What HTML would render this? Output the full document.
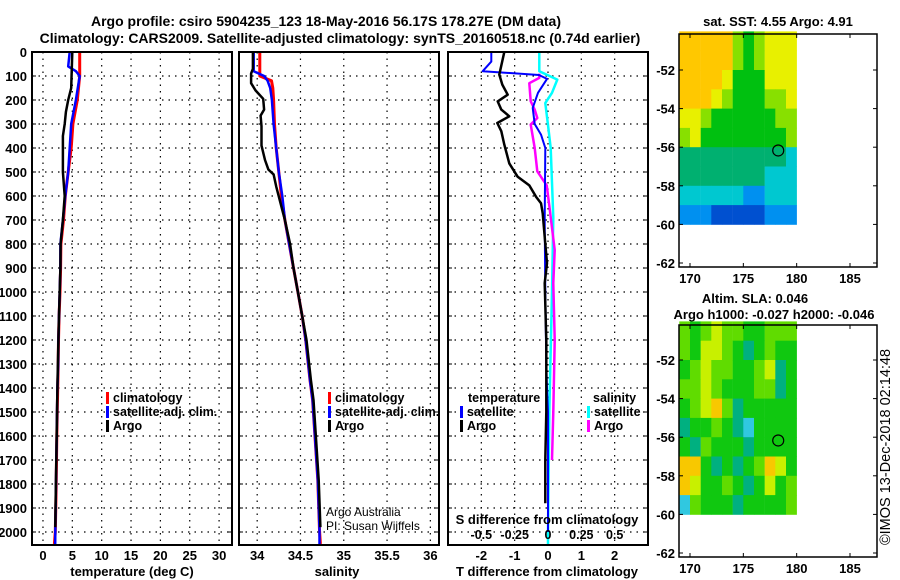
<!DOCTYPE html>
<html><head><meta charset="utf-8">
<style>
body{margin:0;background:#fff;}
svg{display:block;font-family:"Liberation Sans",Arial,sans-serif;font-weight:bold;}
</style></head>
<body>
<svg id="fig" width="900" height="580" viewBox="0 0 900 580" xmlns="http://www.w3.org/2000/svg">
<rect width="900" height="580" fill="#fff"/>
<text x="326" y="26" text-anchor="middle" font-size="14">Argo profile: csiro 5904235_123 18-May-2016 56.17S 178.27E (DM data)</text>
<text x="340" y="43" text-anchor="middle" font-size="14">Climatology: CARS2009. Satellite-adjusted climatology: synTS_20160518.nc (0.74d earlier)</text>
<text transform="translate(890,447) rotate(-90)" text-anchor="middle" font-size="14.5" font-weight="normal">©IMOS 13-Dec-2018 02:14:48</text>
</svg>
<script>
// ---------------- data ----------------
const depthTicks=[0,100,200,300,400,500,600,700,800,900,1000,1100,1200,1300,1400,1500,1600,1700,1800,1900,2000];
const tTicks=[0,5,10,15,20,25,30];
const sTicks=[34,34.5,35,35.5,36];
const dTTicks=[-2,-1,0,1,2];
const dSTicks=[-0.5,-0.25,0,0.25,0.5];
const dSTickLabels=["-0.5","-0.25","0","0.25","0.5"];

const tClimDepth=[0,100,200,300,400,500,600,700,800,900,1000,1100,1200,1300,1400,1600,1800,2000,2050];
const tClim=[6.25,6.25,5.85,5.1,4.8,4.3,3.8,3.5,3.05,3.0,2.9,2.75,2.65,2.6,2.5,2.35,2.25,2.1,1.95];
const tSatDepth=[0,60,80,100,200,300,400,500,600,700,800,900,1000,1100,1200,1300,1400,1600,1800,2000,2050];
const tSat=[4.55,4.3,5.6,6.25,5.6,4.8,4.55,4.3,3.8,3.4,2.96,2.96,2.85,2.73,2.62,2.6,2.45,2.33,2.22,2.1,2.08];
const tArgoDepth=[0,150,200,250,300,350,400,500,600,700,800,900,1000,1100,1200,1400,1600,1800,1980];
const tArgo=[5.0,4.8,4.3,3.9,3.7,3.4,3.4,3.4,3.7,3.4,3.0,2.96,2.85,2.73,2.62,2.45,2.33,2.2,2.1];

const sClimDepth=[0,100,120,150,200,300,400,500,600,700,800,900,1000,1100,1200,1367,1450,1783,1992,2050];
const sClim=[34.03,34.03,34.165,34.18,34.19,34.2,34.22,34.25,34.28,34.32,34.37,34.42,34.47,34.52,34.56,34.61,34.64,34.7,34.72,34.73];
const sSatDepth=[0,80,100,120,150,200,300,400,500,600,700,800,900,1000,1100,1200,1367,1450,1783,1992,2050];
const sSat=[33.96,33.96,34.08,34.12,34.15,34.17,34.19,34.22,34.25,34.29,34.32,34.37,34.42,34.47,34.52,34.56,34.61,34.64,34.7,34.72,34.72];
const sArgoDepth=[0,70,90,130,160,195,240,265,310,390,450,490,510,560,700,800,900,1000,1100,1200,1367,1450,1783,1980];
const sArgo=[33.95,33.95,33.93,33.93,33.98,34.07,34.08,34.04,34.05,34.05,34.09,34.13,34.19,34.22,34.32,34.38,34.42,34.47,34.52,34.57,34.62,34.65,34.71,34.73];

const dTSatDepth=[0,40,80,96,112,170,233,300,344,400,700,1000,1300,1400,1500,2000];
const dTSat=[-1.7,-1.7,-1.96,-0.27,-0.03,-0.3,-0.46,-0.4,-0.21,-0.08,-0.1,-0.08,-0.05,-0.03,0,0];
const dTArgoDepth=[0,94,136,178,206,240,268,296,330,386,464,520,556,603,630,672,770,880,963,1200,1500,1700,1880];
const dTArgo=[-1.31,-1.46,-1.37,-1.21,-1.51,-1.4,-1.16,-1.52,-1.4,-1.31,-1.16,-0.91,-0.56,-0.36,-0.21,-0.16,-0.1,-0.03,-0.1,-0.05,-0.05,-0.08,-0.08];
const dSSatDepth=[0,80,115,170,213,304,400,690,1000,1500,2000,2050];
const dSSat=[-0.065,-0.065,0.07,0.03,-0.02,0.0,0.02,0.04,0.03,0.01,0.0,0.0];
const dSArgoDepth=[90,108,130,205,240,275,302,400,497,556,640,825,963,1200,1500,1700];
const dSArgo=[-0.065,-0.065,-0.14,-0.13,-0.1,-0.08,-0.13,-0.1,-0.08,-0.01,0.01,0.05,0.04,0.05,0.04,0.03];

const lonTicks=[170,175,180,185];
const latTicks=[-52,-54,-56,-58,-60,-62];
const gridLons=[169,170,171,172,173,174,175,176,177,178,179];
const gridLats=[-50,-51,-52,-53,-54,-55,-56,-57,-58,-59];
const sstGrid=[
[7,7,7,7,7,5,4,5,6,6,6],
[7,7,7,7,7,5,4,5,6,6,6],
[7,7,7,7,6,4,4,4,6,6,6],
[7,7,7,6,5,4,4,4,5,5,6],
[6,6,5,4,4,4,4,4,4,5,5],
[5,6,4,4,4,4,4,4,4,4,5],
[3,3,3,3,3,3,3,3,3,3,2],
[3,3,3,3,3,3,3,3,2,2,2],
[2,2,2,2,2,2,1,1,2,2,2],
[1,1,1,0,0,0,0,0,1,1,1]];
const slaGrid=[
[3,2,3,4,3,3,2,2,3,3,3],
[3,2,4,4,3,2,1,2,3,2,2],
[2,3,4,3,3,2,2,3,4,1,2],
[3,3,4,3,2,2,2,3,3,1,2],
[2,3,4,5,3,1,2,2,2,2,2],
[1,2,2,3,2,1,0,2,2,2,2],
[2,1,3,2,2,2,1,2,2,2,2],
[5,5,2,1,2,1,2,3,5,4,2],
[5,4,2,2,3,2,1,2,4,2,3],
[0,3,2,2,2,1,2,2,2,2,3]];
const floatLon=178.27, floatLat=-56.17;

// ---------------- drawing ----------------
const NS="http://www.w3.org/2000/svg";
const svg=document.getElementById('fig');
function el(tag,attrs,parent){const e=document.createElementNS(NS,tag);for(const k in attrs)e.setAttribute(k,attrs[k]);(parent||svg).appendChild(e);return e;}
const yTop=52, yBot=545;
const yD=d=>yTop+d*0.24;

function panel(name,x0,x1,vmin,vmax){
  const g=el('g',{});
  
  
  const sx=v=>x0+(v-vmin)/(vmax-vmin)*(x1-x0);
  return {g,sx};
}
function frame(g,x0,x1,name){
  const r=el('rect',{x:x0,y:yTop,width:x1-x0,height:yBot-yTop,fill:'none',stroke:'#000','stroke-width':2},g);
  
  
}
function hgrid(g,x0,x1){
  depthTicks.forEach(d=>{if(d===0)return;
    const l=el('line',{x1:x0,x2:x1,y1:yD(d),y2:yD(d),stroke:'#000','stroke-width':1.2,'stroke-dasharray':'1.5 5'},g);
    
    
    el('line',{x1:x0,x2:x0+4,y1:yD(d),y2:yD(d),stroke:'#000','stroke-width':1},g);
    el('line',{x1:x1-4,x2:x1,y1:yD(d),y2:yD(d),stroke:'#000','stroke-width':1},g);
  });
}
function vgrid(g,ticks,sx,x0,x1){
  ticks.forEach(v=>{const x=sx(v);
    const l=el('line',{x1:x,x2:x,y1:yTop,y2:yBot,stroke:'#000','stroke-width':1.2,'stroke-dasharray':'1.5 5'},g);
    
    
  });
}
function xlabels(g,ticks,sx,labels,y,name){
  ticks.forEach((v,i)=>{
    const t=el('text',{x:sx(v),y:y,'text-anchor':'middle','font-size':13},g);
    t.textContent=labels?labels[i]:String(v);
    
    
  });
}
function series(g,depths,vals,sx,color,w,name){
  const pts=depths.map((d,i)=>sx(vals[i]).toFixed(1)+','+yD(d).toFixed(1)).join(' ');
  const p=el('polyline',{points:pts,fill:'none',stroke:color,'stroke-width':w,'stroke-linejoin':'round'},g);
  
  
}
function legendEntry(g,x,y,color,label,name){
  const r=el('rect',{x:x,y:y-10,width:3,height:12,fill:color},g);
  const t=el('text',{x:x+7,y:y,'font-size':12.5},g);
  t.textContent=label;
  
  
}
function title(g,x,y,txt,name){
  const t=el('text',{x:x,y:y,'text-anchor':'middle','font-size':13},g);
  t.textContent=txt;
  
  
}

// Panel 1: temperature
(function(){
  const x0=32,x1=232;
  const P=panel('temperature-panel',x0,x1,-1.87,32.2);
  const g=P.g,sx=P.sx;
  hgrid(g,x0,x1); vgrid(g,tTicks,sx,x0,x1);
  depthTicks.forEach(d=>{
    const t=el('text',{x:27,y:yD(d)+5,'text-anchor':'end','font-size':13},g);
    t.textContent=String(d);
    
    
  });
  xlabels(g,tTicks,sx,null,560,'temperature-tick-label');
  title(g,132,576,'temperature (deg C)','temperature-axis-title');
  series(g,tClimDepth,tClim,sx,'#ff0000',3,'temperature-climatology-line');
  series(g,tSatDepth,tSat,sx,'#0000ff',2.5,'temperature-satellite-line');
  series(g,tArgoDepth,tArgo,sx,'#000',2.5,'temperature-argo-line');
  legendEntry(g,106,402,'#ff0000','climatology','legend-climatology');
  legendEntry(g,106,416,'#0000ff','satellite-adj. clim.','legend-satellite');
  legendEntry(g,106,430,'#000','Argo','legend-argo');
  frame(g,x0,x1,'temperature-plot-frame');
})();

// Panel 2: salinity
(function(){
  const x0=239,x1=439;
  const P=panel('salinity-panel',x0,x1,33.79,36.1);
  const g=P.g,sx=P.sx;
  hgrid(g,x0,x1); vgrid(g,sTicks,sx,x0,x1);
  xlabels(g,sTicks,sx,null,560,'salinity-tick-label');
  title(g,337,576,'salinity','salinity-axis-title');
  series(g,sClimDepth,sClim,sx,'#ff0000',3,'salinity-climatology-line');
  series(g,sSatDepth,sSat,sx,'#0000ff',2.5,'salinity-satellite-line');
  series(g,sArgoDepth,sArgo,sx,'#000',2.5,'salinity-argo-line');
  legendEntry(g,328,402,'#ff0000','climatology','legend-climatology');
  legendEntry(g,328,416,'#0000ff','satellite-adj. clim.','legend-satellite');
  legendEntry(g,328,430,'#000','Argo','legend-argo');
  const a=el('text',{x:326,y:516,'font-size':12,'font-weight':'normal'},g);a.textContent='Argo Australia';
  
  const b=el('text',{x:326,y:530,'font-size':12,'font-weight':'normal'},g);b.textContent='PI: Susan Wijffels';
  
  frame(g,x0,x1,'salinity-plot-frame');
})();

// Panel 3: differences
(function(){
  const x0=448,x1=648;
  const P=panel('difference-panel',x0,x1,-3,3);
  const g=P.g,sx=P.sx;
  const ss=v=>sx(v*4);
  hgrid(g,x0,x1); vgrid(g,dTTicks,sx,x0,x1);
  xlabels(g,dTTicks,sx,null,560,'t-difference-tick-label');
  title(g,547,576,'T difference from climatology','t-difference-axis-title');
  series(g,dSSatDepth,dSSat,ss,'#00ffff',2.5,'salinity-satellite-difference-line');
  series(g,dSArgoDepth,dSArgo,ss,'#ff00ff',2.5,'salinity-argo-difference-line');
  series(g,dTSatDepth,dTSat,sx,'#0000ff',2,'temperature-satellite-difference-line');
  series(g,dTArgoDepth,dTArgo,sx,'#000',2.5,'temperature-argo-difference-line');
  title(g,547,524,'S difference from climatology','s-difference-axis-title');
  dSTicks.forEach((v,i)=>{
    const t=el('text',{x:ss(v),y:539,'text-anchor':'middle','font-size':12.5},g);
    t.textContent=dSTickLabels[i];
    
    
  });
  const h1=el('text',{x:468,y:402,'font-size':12.5},g);h1.textContent='temperature';
  
  const h2=el('text',{x:593,y:402,'font-size':12.5},g);h2.textContent='salinity';
  
  legendEntry(g,460,416,'#0000ff','satellite','legend-temperature-satellite');
  legendEntry(g,460,430,'#000','Argo','legend-temperature-argo');
  legendEntry(g,587,416,'#00ffff','satellite','legend-salinity-satellite');
  legendEntry(g,587,430,'#ff00ff','Argo','legend-salinity-argo');
  frame(g,x0,x1,'difference-plot-frame');
})();

// Maps
const sstColors=['#0050d0','#0090f0','#00c8d0','#00b070','#00c010','#88e000','#e8f000','#ffc800'];
const slaColors=['#30c8e0','#00b080','#10c810','#60dc00','#c8f000','#f8c800'];
function map(name,fx0,fy0,fx1,fy1,latTopY,latScale,grid,colors){
  const g=el('g',{});
  
  
  const lx=lon=>690+(lon-170)*10.667;
  const ly=lat=>latTopY+(-52-lat)*latScale;
  gridLats.forEach((lat,i)=>gridLons.forEach((lon,j)=>{
    const r=el('rect',{x:lx(lon).toFixed(1),y:ly(lat).toFixed(1),width:10.9,height:(latScale+0.4).toFixed(1),fill:colors[grid[i][j]]},g);
    
    
  }));
  el('rect',{x:fx0-12,y:fy0,width:11,height:fy1-fy0,fill:'#fff'},g);
  const c=el('circle',{cx:lx(floatLon),cy:ly(floatLat),r:5.5,fill:'none',stroke:'#000','stroke-width':1.2},g);
  
  
  const f=el('rect',{x:fx0,y:fy0,width:fx1-fx0,height:fy1-fy0,fill:'none',stroke:'#000','stroke-width':1.5},g);
  
  
  lonTicks.forEach(lon=>{const x=lx(lon);
    el('line',{x1:x,x2:x,y1:fy1,y2:fy1-4,stroke:'#000'},g);
    el('line',{x1:x,x2:x,y1:fy0,y2:fy0+4,stroke:'#000'},g);
    const t=el('text',{x:x,y:fy1+16,'text-anchor':'middle','font-size':13},g);
    t.textContent=String(lon);
    
    
  });
  latTicks.forEach(lat=>{const y=ly(lat);
    el('line',{x1:fx0,x2:fx0+4,y1:y,y2:y,stroke:'#000'},g);
    el('line',{x1:fx1,x2:fx1-4,y1:y,y2:y,stroke:'#000'},g);
    const t=el('text',{x:fx0-4,y:y+5,'text-anchor':'end','font-size':13},g);
    t.textContent=String(lat);
    
    
  });
  return g;
}
const m1=map('sst-map',679,34,877,267,70,19.3,sstGrid,sstColors);
title(m1,778,26,'sat. SST: 4.55 Argo: 4.91','sst-map-title');
const m2=map('sla-map',679,325,877,557,360,19.3,slaGrid,slaColors);
title(m2,755,303,'Altim. SLA: 0.046','sla-map-title');
title(m2,774,319,'Argo h1000: -0.027 h2000: -0.046','sla-map-subtitle');
</script>
</body></html>
